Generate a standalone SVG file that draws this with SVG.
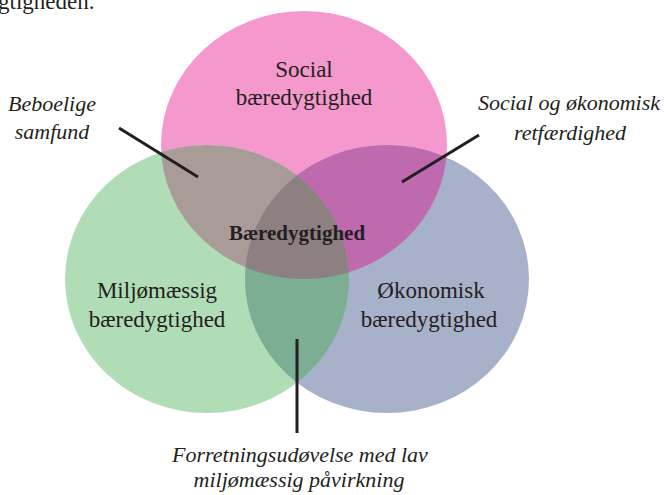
<svg xmlns="http://www.w3.org/2000/svg" width="667" height="495" viewBox="0 0 667 495">
<style>
.t{font-family:"Liberation Serif","Times New Roman",serif;fill:#231F20;text-anchor:middle}
.r{font-size:23px}
.b{font-size:21px;font-weight:bold}
.i{font-size:22px;font-style:italic}
.ln{stroke:#231F20;stroke-width:3;fill:none}
</style>
<defs>
<ellipse id="eP" cx="304" cy="145" rx="143" ry="134"/>
<ellipse id="eG" cx="207" cy="279" rx="142" ry="134"/>
<ellipse id="eB" cx="387" cy="279" rx="142" ry="134"/>
<clipPath id="cG"><use href="#eG"/></clipPath>
<clipPath id="cB"><use href="#eB"/></clipPath>
</defs>
<rect width="667" height="495" fill="#FFFFFF"/>
<text class="t r" x="-2" y="9" style="text-anchor:start">gtigheden.</text>
<g id="node-social"><use href="#eP" fill="#F498CD"/></g>
<g id="node-miljo"><use href="#eG" fill="#B0DDB6"/></g>
<g id="node-okonomi"><use href="#eB" fill="#A7B1C9"/></g>
<g id="overlaps">
<use href="#eP" fill="#A99C98" clip-path="url(#cG)"/>
<use href="#eP" fill="#BF69AE" clip-path="url(#cB)"/>
<use href="#eG" fill="#7CAE94" clip-path="url(#cB)"/>
<g clip-path="url(#cG)"><use href="#eP" fill="#8C8081" clip-path="url(#cB)"/></g>
</g>
<g id="connectors">
<line class="ln" x1="119" y1="128" x2="198" y2="177"/>
<line class="ln" x1="479" y1="135" x2="402" y2="182"/>
<line class="ln" x1="297" y1="339" x2="297" y2="433"/>
</g>
<g id="labels">
<text class="t r" x="304" y="77">Social</text>
<text class="t r" x="304" y="105">bæredygtighed</text>
<text class="t r" x="157" y="298">Miljømæssig</text>
<text class="t r" x="157" y="327">bæredygtighed</text>
<text class="t r" x="431" y="298">Økonomisk</text>
<text class="t r" x="429" y="327">bæredygtighed</text>
<text class="t b" x="297" y="240">Bæredygtighed</text>
<text class="t i" x="52" y="111">Beboelige</text>
<text class="t i" x="52" y="139">samfund</text>
<text class="t i" x="569" y="110">Social og økonomisk</text>
<text class="t i" x="570" y="140">retfærdighed</text>
<text class="t i" x="300" y="462">Forretningsudøvelse med lav</text>
<text class="t i" x="299" y="487">miljømæssig påvirkning</text>
</g>
</svg>
